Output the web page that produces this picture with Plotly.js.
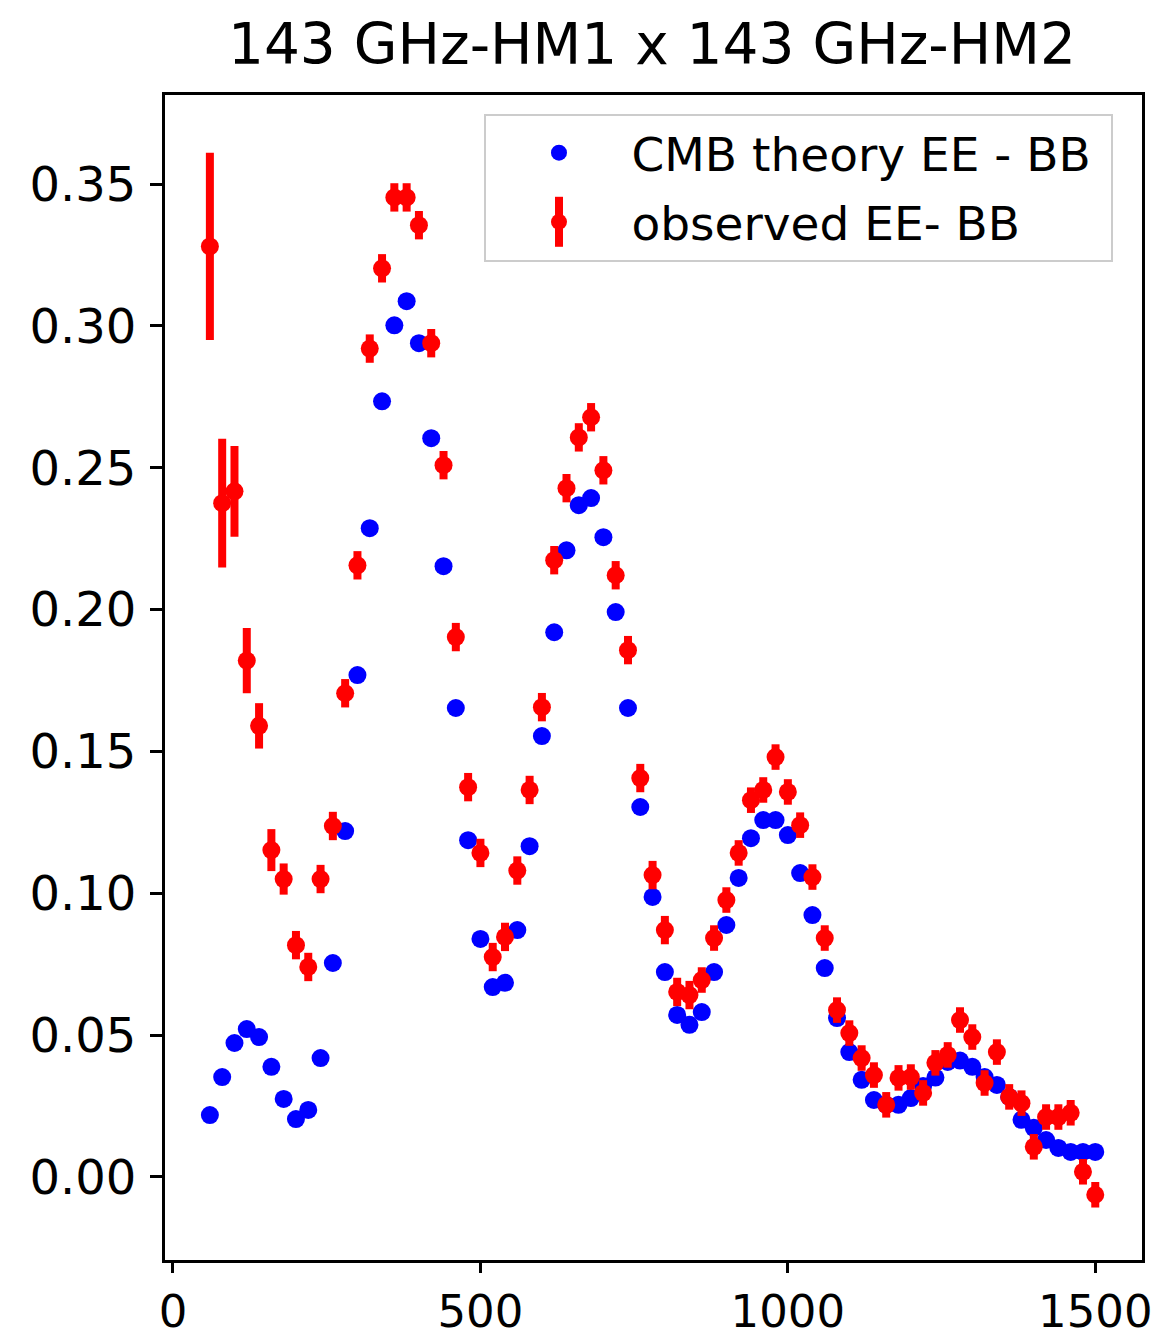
<!DOCTYPE html>
<html>
<head>
<meta charset="utf-8">
<script src="https://cdn.plot.ly/plotly-3.0.1.min.js"></script>
<style>
html,body{margin:0;padding:0;background:#fff;}
#plot{width:1158px;height:1337px;}
</style>
</head>
<body>
<div id="plot"></div>
<script>
// multipole bin centres
const ell = [60,80,100,120,140,160,180,200,220,240,260,280,300,320,340,360,380,400,420,440,
  460,480,500,520,540,560,580,600,620,640,660,680,700,720,740,760,780,800,820,840,
  860,880,900,920,940,960,980,1000,1020,1040,1060,1080,1100,1120,1140,1160,1180,1200,1220,1240,
  1260,1280,1300,1320,1340,1360,1380,1400,1420,1440,1460,1480,1500];

// CMB theory EE - BB
const theory = [0.0218,0.0352,0.0472,0.0521,0.0493,0.0388,0.0275,0.0204,0.0236,0.0419,
  0.0754,0.1219,0.1769,0.2287,0.2734,0.3002,0.3087,0.2939,0.2604,0.2153,
  0.1653,0.1187,0.0839,0.0669,0.0684,0.0870,0.1166,0.1554,0.1920,0.2209,
  0.2368,0.2393,0.2255,0.1991,0.1653,0.1304,0.0987,0.0722,0.0571,0.0536,
  0.0581,0.0722,0.0888,0.1054,0.1194,0.1258,0.1258,0.1205,0.1071,0.0923,
  0.0736,0.0560,0.0440,0.0342,0.0271,0.0254,0.0254,0.0278,0.0320,0.0350,
  0.0405,0.0410,0.0388,0.0352,0.0324,0.0282,0.0201,0.0173,0.0130,0.0102,
  0.0088,0.0088,0.0088];

// observed EE - BB
const observed = [0.328,0.2375,0.2417,0.182,0.159,0.1152,0.105,0.0817,0.074,0.105,
  0.1237,0.1705,0.2156,0.292,0.3203,0.3453,0.3453,0.3355,0.2939,0.2509,
  0.1903,0.1374,0.1142,0.0775,0.0846,0.108,0.1364,0.1656,0.2174,0.2428,
  0.2607,0.2678,0.2491,0.2121,0.1857,0.1406,0.1064,0.087,0.0652,0.0641,
  0.0694,0.0842,0.0976,0.1142,0.1328,0.1364,0.148,0.1357,0.124,0.1057,
  0.0842,0.0588,0.0507,0.0419,0.0359,0.0254,0.0349,0.0352,0.0296,0.0402,
  0.043,0.0553,0.0493,0.0331,0.044,0.0282,0.026,0.0106,0.0211,0.0211,
  0.0226,0.0018,-0.0063];

// observed error bars
const observedErr = [0.033,0.0227,0.016,0.0115,0.008,0.0074,0.0055,0.005,0.005,0.005,
  0.005,0.005,0.005,0.005,0.005,0.005,0.005,0.005,0.005,0.005,
  0.005,0.005,0.005,0.005,0.005,0.005,0.005,0.005,0.005,0.005,
  0.005,0.005,0.005,0.005,0.005,0.005,0.005,0.005,0.005,0.005,
  0.0045,0.0045,0.0045,0.0045,0.0045,0.0045,0.0045,0.0045,0.0045,0.0045,
  0.0045,0.0045,0.0045,0.0045,0.0045,0.0045,0.0045,0.0045,0.0045,0.0045,
  0.0045,0.0045,0.0045,0.0045,0.0045,0.0045,0.0045,0.0045,0.0045,0.0045,
  0.0045,0.0045,0.0045];

const xTicks = [0,500,1000,1500];
const yTicks = [0.00,0.05,0.10,0.15,0.20,0.25,0.30,0.35];

const traces = [
  {
    x: ell, y: theory, type: 'scatter', mode: 'markers',
    name: 'CMB theory EE - BB\u00a0', legendgroup: 'a',
    marker: {color: '#0000ff', size: 18, line: {width: 0}}
  },
  {
    x: ell, y: observed, type: 'scatter', mode: 'markers',
    name: 'observed EE- BB', legendgroup: 'b',
    marker: {color: '#ff0000', size: 18, line: {width: 0}},
    error_y: {type: 'data', array: observedErr, visible: true, color: '#ff0000', thickness: 8, width: 0}
  }
];

const layout = {
  width: 1158, height: 1337,
  margin: {l: 165, r: 16, t: 95, b: 77},
  paper_bgcolor: '#ffffff', plot_bgcolor: '#ffffff',
  font: {family: 'DejaVu Sans, sans-serif', color: '#000000', size: 47},
  title: {text: '143 GHz-HM1 x 143 GHz-HM2', font: {size: 56.5, color: '#000'}, x: 0.563, xanchor: 'center', y: 0.967, yanchor: 'middle'},
  showlegend: true,
  legend: {
    x: 0.327, y: 0.984, xanchor: 'left', yanchor: 'top',
    bgcolor: 'rgba(255,255,255,0)', bordercolor: '#cccccc', borderwidth: 2,
    font: {size: 47, color: '#000'}, itemwidth: 135, tracegroupgap: 5
  },
  xaxis: {
    range: [-13, 1576], tickmode: 'array', tickvals: xTicks, ticktext: xTicks.map(String),
    showgrid: false, zeroline: false, showline: true, linecolor: '#000', linewidth: 3, mirror: true,
    ticks: 'outside', ticklen: 10, tickwidth: 3, tickcolor: '#000',
    tickfont: {size: 45}
  },
  yaxis: {
    range: [-0.0293, 0.3814], tickmode: 'array', tickvals: yTicks, ticktext: yTicks.map(v => v.toFixed(2)),
    showgrid: false, zeroline: false, showline: true, linecolor: '#000', linewidth: 3, mirror: true,
    ticks: 'outside', ticklen: 12, tickwidth: 3, tickcolor: '#000',
    tickfont: {size: 48}, ticklabelstandoff: 4
  }
};

Plotly.newPlot('plot', traces, layout, {displayModeBar: false, staticPlot: true}).then(function(gd){
  // add the error-bar stroke to the legend symbol of the observed series
  const pts = gd.querySelectorAll('.legend .traces');
  if (pts.length > 1) {
    const sym = pts[1].querySelector('.legendpoints path');
    if (sym) {
      const r = sym.getBoundingClientRect();
      const cx = (r.left + r.right) / 2, cy = (r.top + r.bottom) / 2;
      const px2x = (cx - 165) / 977, py = (1260 - cy) / 1165;
      Plotly.relayout(gd, {shapes: [{type: 'line', xref: 'paper', yref: 'paper',
        x0: px2x, x1: px2x, y0: py - 25/1165, y1: py + 25/1165,
        line: {color: '#ff0000', width: 8}, layer: 'above'}]});
    }
  }
});
</script>
</body>
</html>
